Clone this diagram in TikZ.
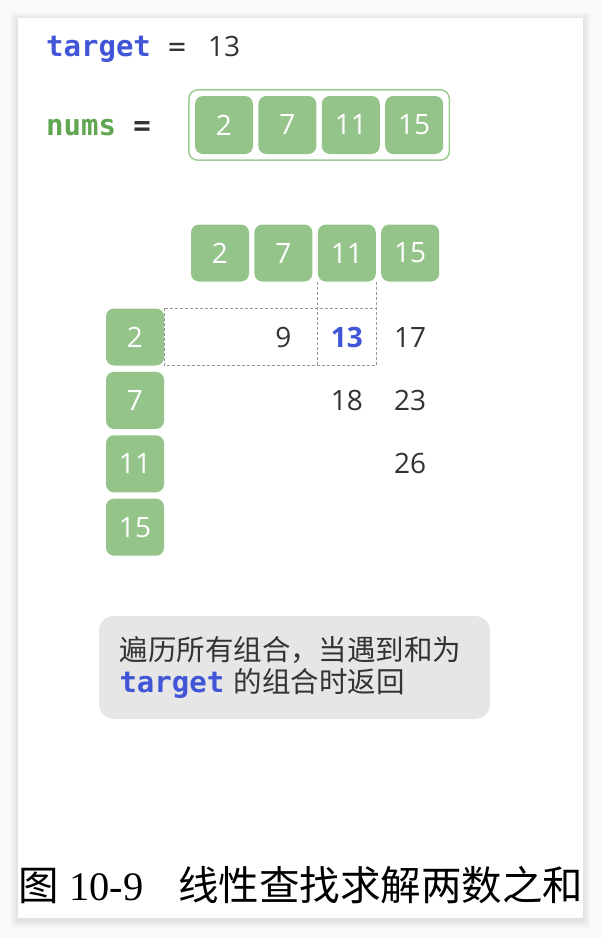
\documentclass[tikz,border=0pt]{standalone}
\usepackage{fontspec}
\setmainfont{Open Sans}
\setmonofont{DejaVu Sans Mono}
\newfontfamily\cjk{Noto Sans CJK SC}
\newfontfamily\capserif{Liberation Serif}
\usepackage{tikz}
\usetikzlibrary{positioning,fit,backgrounds}
\usepackage{xcolor}
\definecolor{hagreen}{RGB}{149,196,139}
\definecolor{hagreenline}{RGB}{158,204,148}
\definecolor{hadarkgreen}{RGB}{96,165,80}
\definecolor{hablue}{RGB}{64,86,214}
\definecolor{hatext}{RGB}{51,51,51}
\definecolor{hagray}{RGB}{230,230,230}
\definecolor{hadash}{RGB}{150,150,150}
\tikzstyle{cell} = [rectangle, rounded corners=8pt, minimum width=58pt, minimum height=57pt, inner sep=0pt, fill=hagreen, text=white, font=\fontsize{28}{28}\selectfont]
\tikzstyle{codeword} = [inner sep=0pt, font=\ttfamily\bfseries\fontsize{29}{29}\selectfont]
\tikzstyle{sumval} = [inner sep=0pt, text=hatext, font=\fontsize{28}{28}\selectfont]
\tikzstyle{dashline} = [dash pattern=on 3pt off 2pt, color=hadash, line width=0.8pt]

\begin{document}
\begin{tikzpicture}[x=1pt, y=-1pt, node distance=5pt]
\useasboundingbox (0,0) rectangle (601,938);
% page and card
\fill[black!2] (0,0) rectangle (601,938);
\foreach \s in {1,...,8}
  \fill[black, opacity=0.012] (18-\s,18-\s+2) rectangle (583+\s,918+\s+2);
\fill[white] (18,18) rectangle (583,918);

% target and nums
\node[codeword, text=hablue, anchor=base west] (target) at (46,56) {target};
\node[codeword, text=hatext, font=\ttfamily\fontsize{29}{29}\selectfont, base right=17pt of target] (teq) {=};
\node[sumval, base right=22pt of teq] (tval) {13};
\node[codeword, text=hadarkgreen, anchor=base west] (nums) at (46,135) {nums};
\node[codeword, text=hatext, base right=17pt of nums] (neq) {=};

\node[cell, minimum height=58pt] (a0) at (224,125) {2};
\node[cell, minimum height=58pt, right=5pt of a0] (a1) {7};
\node[cell, minimum height=58pt, right=5pt of a1] (a2) {11};
\node[cell, minimum height=58pt, right=5pt of a2] (a3) {15};
\node[draw=hagreenline, line width=1.5pt, rounded corners=9pt, fit=(a0)(a3), inner sep=6pt] (arr) {};

% combination grid
\node[cell] (t0) at (220,253) {2};
\node[cell, right=5pt of t0] (t1) {7};
\node[cell, right=5pt of t1] (t2) {11};
\node[cell, right=5pt of t2] (t3) {15};

\node[cell] (l0) at (135,337) {2};
\node[cell, below=6pt of l0] (l1) {7};
\node[cell, below=6pt of l1] (l2) {11};
\node[cell, below=6pt of l2] (l3) {15};

\draw[dashline] (l0.north east) rectangle (t2.east |- l0.south);
\draw[dashline] (t2.south west) -- (t2.west |- l0.south);
\draw[dashline] (t2.south east) -- (t2.east |- l0.north);

\node[sumval] (s01) at (t1 |- l0) {9};
\node[sumval, text=hablue, font=\bfseries\fontsize{28}{28}\selectfont] (s02) at (t2 |- l0) {13};
\node[sumval] (s03) at (t3 |- l0) {17};
\node[sumval] (s12) at (t2 |- l1) {18};
\node[sumval] (s13) at (t3 |- l1) {23};
\node[sumval] (s23) at (t3 |- l2) {26};

% note
\node[fill=hagray, rounded corners=15pt, minimum height=103pt, text width=350pt, inner xsep=20.5pt, inner ysep=0pt, align=left, text=hatext, font=\fontsize{28.5}{32}\selectfont] (tip) at (294.5,667.5)
  {{\cjk 遍历所有组合，当遇到和为}\\{\ttfamily\bfseries\fontsize{29}{32}\selectfont\color{hablue}target} {\cjk 的组合时返回}};

% caption
\node[anchor=base west, inner sep=0pt, font=\fontsize{40.5}{40.5}\selectfont] (caption) at (18,900)
  {{\cjk 图} {\capserif 10-9}\hspace{35pt}{\cjk 线性查找求解两数之和}};
\end{tikzpicture}
\end{document}
